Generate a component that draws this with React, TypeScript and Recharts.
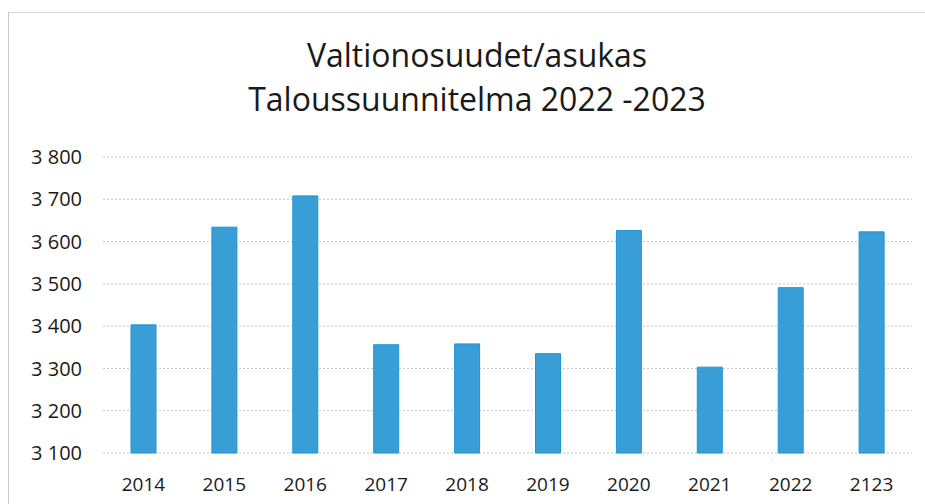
import { BarChart, Bar, XAxis, YAxis, CartesianGrid } from 'recharts';

const YEARS = ['2014', '2015', '2016', '2017', '2018', '2019', '2020', '2021', '2022', '2123'];
const VALUES = [3403, 3634, 3708, 3356, 3358, 3335, 3626, 3303, 3491, 3623];
const Y_TICKS = [3100, 3200, 3300, 3400, 3500, 3600, 3700, 3800];
const TITLE = ['Valtionosuudet/asukas', 'Taloussuunnitelma 2022 -2023'];

const FONT = '"Open Sans", "Noto Sans", sans-serif';

const data = YEARS.map((year, i) => ({ year, value: VALUES[i] }));

const fmt = (v: number) => {
  const s = String(v);
  return s.slice(0, s.length - 3) + ' ' + s.slice(-3);
};

export default function App() {
  return (
    <div
      style={{
        position: 'absolute',
        left: 0,
        top: 0,
        width: 925,
        height: 504,
        background: '#fff',
        overflow: 'hidden',
        fontFamily: FONT,
      }}
    >
      <div
        style={{
          position: 'absolute',
          left: 8,
          top: 12,
          width: 930,
          height: 500,
          borderLeft: '1px solid #c8c8c8',
          borderTop: '1px solid #d8d8d8',
        }}
      />
      <div
        style={{
          position: 'absolute',
          left: 0,
          top: 33,
          width: 954,
          textAlign: 'center',
          fontSize: 32,
          lineHeight: '44px',
          color: '#1a1a1a',
        }}
      >
        {TITLE.map((t) => (
          <div key={t}>{t}</div>
        ))}
      </div>
      <div style={{ position: 'absolute', left: 0, top: 0 }}>
        <BarChart
          width={925}
          height={504}
          data={data}
          margin={{ top: 157, right: 13, left: 0, bottom: 8 }}
          barSize={25}
        >
          <CartesianGrid
            vertical={false}
            stroke="#c4c4c4"
            strokeDasharray="2 2"
          />
          <XAxis
            dataKey="year"
            axisLine={false}
            tickLine={false}
            height={43}
            tickMargin={19}
            tick={{ fontSize: 19, fill: '#1a1a1a', fontFamily: FONT }}
          />
          <YAxis
            width={103}
            domain={[3100, 3800]}
            ticks={Y_TICKS}
            axisLine={false}
            tickLine={false}
            tickMargin={15}
            tickFormatter={fmt}
            tick={{ fontSize: 20, fill: '#1a1a1a', fontFamily: FONT }}
          />
          <Bar
            dataKey="value"
            fill="#3a9ed6"
            stroke="#1c96d6"
            strokeWidth={1}
            isAnimationActive={false}
          />
        </BarChart>
      </div>
    </div>
  );
}
